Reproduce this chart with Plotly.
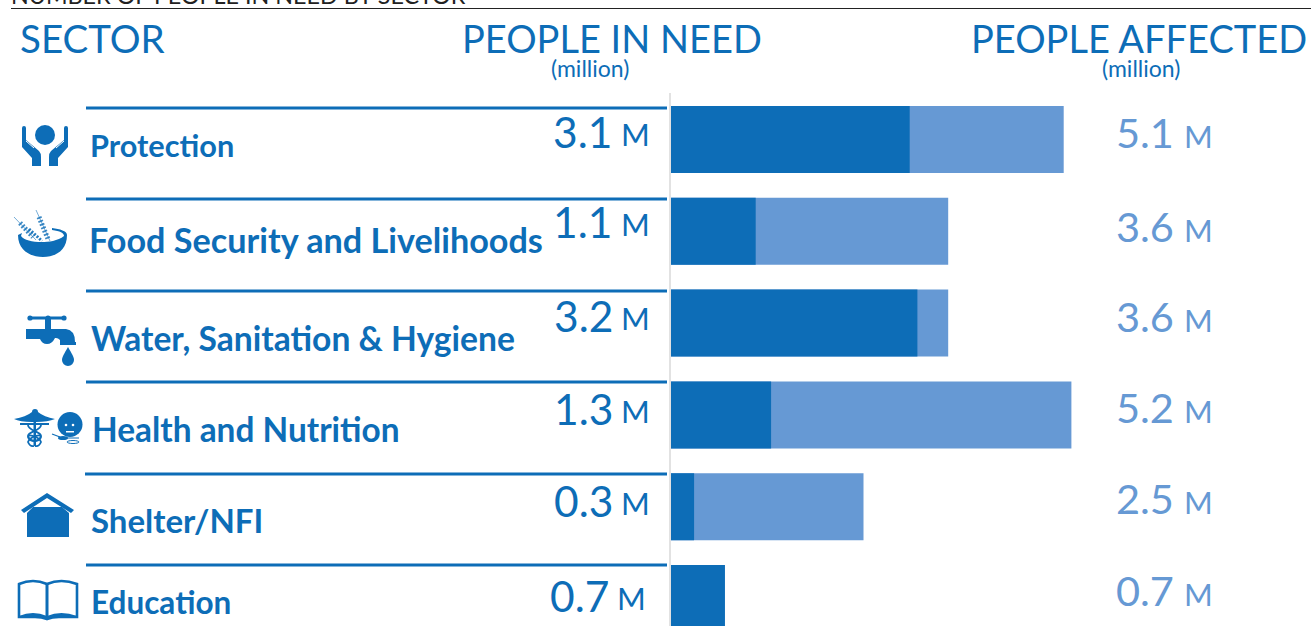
import base64
import plotly.graph_objects as go

W, H = 1311, 626

sectors = ["Protection", "Food Security and Livelihoods", "Water, Sanitation & Hygiene",
           "Health and Nutrition", "Shelter/NFI", "Education"]
people_in_need = [3.1, 1.1, 3.2, 1.3, 0.3, 0.7]
people_affected = [5.1, 3.6, 3.6, 5.2, 2.5, 0.7]
need_labels = ["3.1", "1.1", "3.2", "1.3", "0.3", "0.7"]
affected_labels = ["5.1", "3.6", "3.6", "5.2", "2.5", "0.7"]

DARK = "#0D6DB7"
LIGHT = "#6699D4"
FONT = "Lato"


def px(x):
    return x / W


def py(y):
    return 1 - y / H


def text(x, y, s, size, color=DARK, anchor="left", family=FONT):
    return dict(x=px(x), y=py(y), xref="paper", yref="paper", text=s, showarrow=False,
                xanchor=anchor, yanchor="middle", align=anchor,
                font=dict(family=family, size=size, color=color))


def hline(x0, x1, y, color=DARK, width=3):
    return dict(type="line", xref="paper", yref="paper", x0=px(x0), x1=px(x1), y0=py(y), y1=py(y),
                line=dict(color=color, width=width), layer="above")


fig = go.Figure()
fig.add_bar(y=sectors, x=people_affected, orientation="h", marker=dict(color=LIGHT, line_width=0),
            width=0.73, name="People affected", hoverinfo="x+y")
fig.add_bar(y=sectors, x=people_in_need, orientation="h", marker=dict(color=DARK, line_width=0),
            width=0.73, name="People in need", hoverinfo="x+y")

annotations = [
    text(17.5, 38, "SECTOR", 38.5),
    text(611.5, 38, "PEOPLE IN NEED", 38, anchor="center"),
    text(1139, 38, "PEOPLE AFFECTED", 38, anchor="center"),
    text(590, 68, "(million)", 23, anchor="center"),
    text(1141, 68, "(million)", 23, anchor="center"),
]

label_x = [88, 87, 89, 90, 89, 89]
label_y = [145, 239, 338, 429, 520, 602]
label_size = [30.7, 34.2, 33.6, 33.4, 33, 31.5]
need_right = [614, 614, 615, 615, 615, 611]
m_left = [619, 619, 619, 619, 619, 615]
need_y = [131, 221, 315, 408, 500, 595]
aff_y = [133, 227, 317, 408, 499, 591]
for i, s in enumerate(sectors):
    annotations.append(text(label_x[i], label_y[i], "<b>%s</b>" % s.replace("&", "&amp;"), label_size[i]))
    annotations.append(text(need_right[i], need_y[i], need_labels[i], 42.5, anchor="right"))
    annotations.append(text(m_left[i], need_y[i] + 3, "M", 31))
    annotations.append(text(1176, aff_y[i] - 1, affected_labels[i], 41.5, color=LIGHT, anchor="right"))
    annotations.append(text(1182, aff_y[i] + 3, "M", 31, color=LIGHT))

annotations.append(text(9, -5, "NUMBER OF PEOPLE IN NEED BY SECTOR", 23.3, color="#222222"))

rule_y = [108, 199, 291, 382, 474, 565]
rule_x = [86, 86, 86, 86, 85, 86]
shapes = [hline(11, W, 8.5, color="#222222", width=1.2)]
for x0, y in zip(rule_x, rule_y):
    shapes.append(hline(x0, 667, y))
shapes.append(dict(type="line", xref="paper", yref="paper", x0=px(670), x1=px(670), y0=py(93), y1=0,
                   line=dict(color="#D9D9D9", width=1.5), layer="above"))

STROKE = 'stroke="#0D6DB7" fill="none"'
ICONS = {
    "protection": ((18, 122, 54, 46),
        '<circle cx="45" cy="135" r="10"/>'
        '<path d="M22 128a2 2 0 0 1 4 0V140L39 151Q41 153 41 157V166H32V158L22 147Z"/>'
        '<path d="M68 128a2 2 0 0 0-4 0V140L51 151Q49 153 49 157V166H58V158L68 147Z"/>'
        '<path d="M26 141 34 148M64 141 56 148" stroke="#fff" stroke-width="1"/>'),
    "food": ((11, 207, 60, 53),
        '<path d="M18 235C18 250 30 257 43 257C56 257 67 250 67 235C67 231 60 229 52 228V230C60 231 64 233 64 236C58 241 48 242 42 242C32 242 24 240 21 236L22 233Z"/>'
        '<path d="M14 217 36 240M36 210 50 241" %s stroke-width="0.800" opacity="0.7"/>'
        '<path d="M20 223 33 237M39 217 48 239" %s stroke-width="5" stroke-dasharray="1.800 1.800" opacity="0.8"/>'
        '<path d="M29 229 42 241" %s stroke-width="3" stroke-dasharray="2 1.500" opacity="0.9"/>' % (STROKE, STROKE, STROKE)),
    "water": ((24, 314, 54, 54),
        '<rect x="30" y="316.500" width="34" height="3"/>'
        '<circle cx="30" cy="318" r="2.600"/><circle cx="48" cy="318" r="2.600"/><circle cx="64" cy="318" r="2.600"/>'
        '<rect x="45" y="318" width="6" height="11"/>'
        '<path d="M26 329H66Q75 330 75 342H76V345H60V340Q58 338 56 338H55Q52 344 47 344Q42 344 40 339H26Z"/>'
        '<path d="M68 347C72 354 74 357 74 360A5.800 5.800 0 0 1 62 360C62 357 64 354 68 347Z"/>'),
    "health": ((12, 407, 72, 42),
        '<path d="M14 419Q26 417 32 412H38Q44 417 55 419Q48 422 36 422H32Q20 422 14 419Z"/>'
        '<circle cx="35" cy="412" r="3"/>'
        '<rect x="20" y="423" width="29" height="2"/>'
        '<rect x="33.500" y="414" width="2.500" height="32"/>'
        '<path d="M41 425C41 431 28 431 28 436S36 443 40 438S30 436 28 442Q30 447 34 446" %s stroke-width="1.800"/>'
        '<path d="M28 425C28 431 41 431 41 436S33 443 29 438S39 436 41 442Q39 447 35 446" %s stroke-width="1.800"/>'
        '<circle cx="70" cy="424.500" r="12.500"/>'
        '<circle cx="66" cy="425" r="1.300" fill="#fff"/><circle cx="73" cy="425" r="1.300" fill="#fff"/>'
        '<path d="M66 431h8v1.500h-8Z" fill="#fff"/>'
        '<path d="M52 434 60 437" %s stroke-width="1.200"/>'
        '<ellipse cx="63" cy="438" rx="5" ry="2"/>'
        '<path d="M66 438H79" %s stroke-width="1"/>'
        '<ellipse cx="73" cy="442" rx="6" ry="1.500" %s stroke-width="1"/>' % (STROKE, STROKE, STROKE, STROKE, STROKE)),
    "shelter": ((19, 491, 58, 48),
        '<path d="M21 510 47 493 74 510 71 513 47 498 24 513Z"/>'
        '<path d="M27 537V513L33 507H62L69 513V537Z"/>'),
    "education": ((16, 579, 64, 42),
        '<path d="M19 584Q33 578 47 584 61 578 77 584V617H59Q52 617 47 619 42 617 35 617H19Z" %s stroke-width="2.600"/>'
        '<path d="M47 584V618" %s stroke-width="3"/>'
        '<path d="M19 616Q33 610 47 616 61 610 77 616V618H19Z"/>' % (STROKE, STROKE)),
}

images = []
for name, ((x, y, w, h), body) in ICONS.items():
    svg = ('<svg xmlns="http://www.w3.org/2000/svg" width="%d" height="%d" viewBox="%d %d %d %d" fill="%s">%s</svg>'
           % (w, h, x, y, w, h, DARK, body))
    src = "data:image/svg+xml;base64," + base64.b64encode(svg.encode()).decode()
    images.append(dict(source=src, xref="paper", yref="paper", x=px(x), y=py(y), sizex=w / W, sizey=h / H,
                       xanchor="left", yanchor="top", sizing="stretch", layer="above"))

fig.update_layout(
    width=W, height=H, margin=dict(l=0, r=0, t=0, b=0, pad=0, autoexpand=False),
    paper_bgcolor="white", plot_bgcolor="white", barmode="overlay", showlegend=False,
    font=dict(family=FONT, color=DARK),
    xaxis=dict(domain=[671 / W, 1], range=[0, 640 / 77], visible=False, fixedrange=True),
    yaxis=dict(domain=[0, 1], range=[5.30, -1.52], visible=False, fixedrange=True,
               type="category", categoryorder="array", categoryarray=sectors),
    annotations=annotations, shapes=shapes, images=images,
)
fig.write_html("out.html", config=dict(displayModeBar=False),
               post_script="document.body.style.margin='0';document.documentElement.style.overflow='hidden';")
